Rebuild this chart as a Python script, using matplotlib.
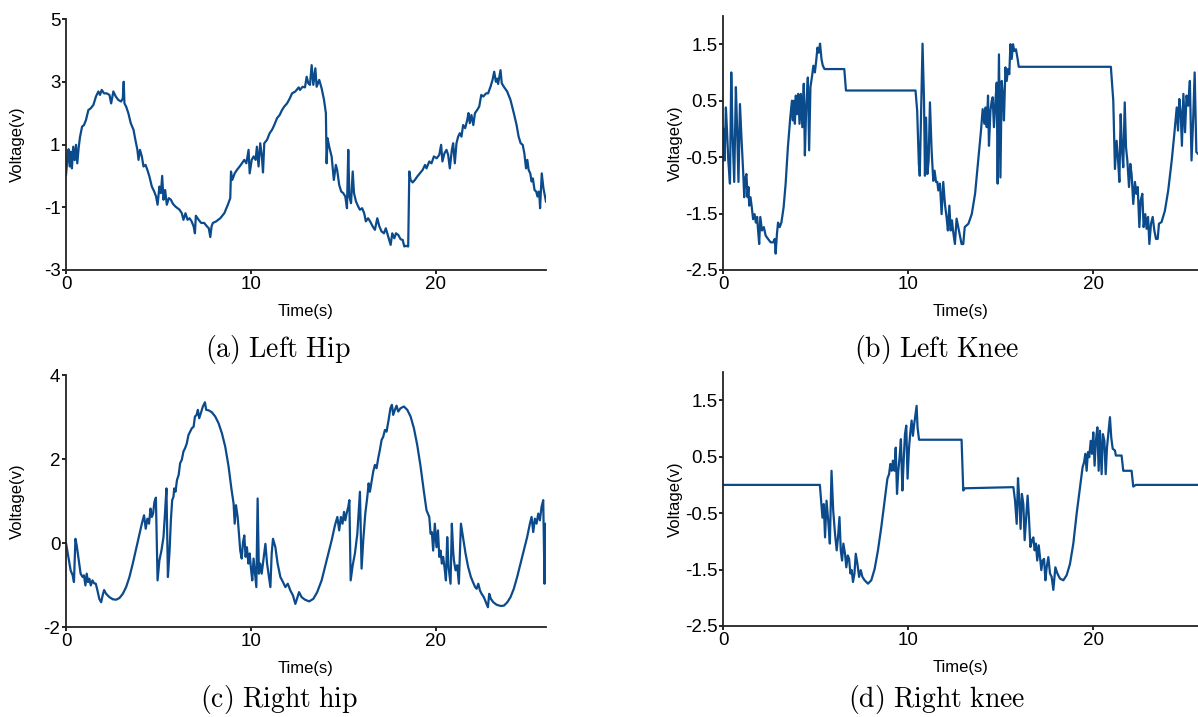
import numpy as np
import matplotlib
matplotlib.use("Agg")
import matplotlib.pyplot as plt

plt.rcParams["font.family"] = ["Liberation Sans", "DejaVu Sans"]
plt.rcParams["mathtext.fontset"] = "cm"
plt.rcParams["axes.unicode_minus"] = False

LINE_C = "#0b4a8b"

# ---- (a) Left hip ----
lhip_t = [0, 0.09, 0.14, 0.2, 0.27, 0.32, 0.39, 0.47, 0.54, 0.61, 0.69, 0.76, 0.87, 0.97,
          1.08, 1.21, 1.33, 1.48, 1.62, 1.75, 1.84, 1.93, 2.06, 2.2, 2.35, 2.44, 2.56, 2.69,
          2.83, 2.98, 3.07, 3.12, 3.16, 3.25, 3.37, 3.5, 3.65, 3.75, 3.86, 3.92, 4.0, 4.1,
          4.19, 4.3, 4.4, 4.51, 4.64, 4.77, 4.87, 4.95, 5.05, 5.13, 5.2, 5.27, 5.36, 5.45,
          5.56, 5.67, 5.78, 5.92, 6.03, 6.14, 6.26, 6.35, 6.46, 6.57, 6.68, 6.79, 6.9, 6.97,
          7.02, 7.17, 7.31, 7.47, 7.62, 7.72, 7.8, 7.87, 7.94, 8.12, 8.34, 8.56, 8.75, 8.88,
          8.92, 8.99, 9.12, 9.24, 9.39, 9.51, 9.64, 9.75, 9.87, 9.93, 10.04, 10.14, 10.25,
          10.32, 10.41, 10.5, 10.59, 10.65, 10.72, 10.87, 11.01, 11.14, 11.26, 11.41, 11.55,
          11.68, 11.8, 11.95, 12.1, 12.22, 12.4, 12.58, 12.65, 12.79, 12.92, 13.01, 13.1,
          13.19, 13.28, 13.37, 13.48, 13.55, 13.69, 13.82, 13.95, 14.05, 14.09, 14.14, 14.23,
          14.36, 14.48, 14.59, 14.66, 14.77, 14.88, 14.99, 15.1, 15.19, 15.26, 15.32, 15.41,
          15.5, 15.57, 15.68, 15.8, 15.89, 16.01, 16.12, 16.21, 16.33, 16.44, 16.58, 16.7,
          16.83, 16.94, 17.06, 17.19, 17.29, 17.42, 17.55, 17.64, 17.75, 17.84, 17.96, 18.09,
          18.2, 18.29, 18.38, 18.5, 18.56, 18.63, 18.74, 18.86, 18.99, 19.13, 19.28, 19.41,
          19.49, 19.64, 19.76, 19.89, 20.04, 20.18, 20.28, 20.35, 20.46, 20.57, 20.66, 20.75,
          20.86, 20.93, 21.02, 21.11, 21.2, 21.29, 21.38, 21.47, 21.58, 21.69, 21.76, 21.83,
          21.92, 22.02, 22.11, 22.23, 22.34, 22.45, 22.56, 22.71, 22.82, 22.95, 23.06, 23.15,
          23.24, 23.31, 23.36, 23.49, 23.56, 23.67, 23.85, 24.03, 24.21, 24.36, 24.47, 24.58,
          24.69, 24.78, 24.87, 24.94, 25.01, 25.1, 25.17, 25.24, 25.33, 25.42, 25.49, 25.56,
          25.6, 25.63, 25.72, 25.81, 25.95]
lhip_v = [0.03, 0.62, 0.85, 0.3, 0.77, 0.24, 0.93, 0.5, 0.99, 0.4, 0.93, 1.25, 1.57, 1.62,
          1.78, 2.1, 2.15, 2.26, 2.53, 2.69, 2.58, 2.74, 2.63, 2.63, 2.58, 2.31, 2.69, 2.53,
          2.42, 2.37, 2.47, 3.0, 2.31, 2.21, 2.0, 1.68, 1.47, 1.15, 0.83, 0.51, 0.83, 0.62,
          0.3, 0.35, 0.19, -0.02, -0.34, -0.5, -0.66, -0.92, -0.34, -0.55, 0.0, -0.76, -0.45,
          -0.92, -0.71, -0.76, -0.89, -0.98, -1.03, -1.08, -1.19, -1.4, -1.19, -1.4, -1.35,
          -1.45, -1.61, -1.83, -1.27, -1.4, -1.5, -1.5, -1.61, -1.67, -1.95, -1.61, -1.5,
          -1.45, -1.35, -1.19, -0.92, -0.71, 0.14, -0.13, 0.08, 0.19, 0.3, 0.4, 0.51, 0.4,
          0.83, 0.08, 0.51, 0.62, 0.51, 0.93, 0.3, 1.04, 0.62, 0.11, 1.04, 1.15, 1.36, 1.47,
          1.62, 1.84, 1.94, 2.1, 2.21, 2.31, 2.47, 2.63, 2.69, 2.82, 2.74, 2.84, 2.82, 3.16,
          2.95, 2.9, 3.53, 2.9, 3.43, 2.84, 3.06, 2.79, 2.42, 2.0, 0.4, 1.2, 0.93, 0.62, -0.13,
          0.35, 0.19, -0.29, -0.5, -0.55, -0.66, -1.03, 0.83, -0.66, -0.87, 0.14, -0.55, -0.82,
          -0.98, -1.08, -1.03, -1.19, -1.45, -1.35, -1.45, -1.61, -1.72, -1.35, -1.61, -1.77,
          -1.83, -1.67, -1.93, -2.2, -1.83, -1.99, -1.83, -1.88, -2.02, -2.04, -2.25, -2.23,
          -2.25, 0.14, -0.13, -0.21, -0.13, -0.02, 0.08, 0.19, 0.35, 0.24, 0.46, 0.4, 0.62,
          0.56, 0.67, 0.99, 0.46, 0.72, 0.83, 0.67, 0.24, 0.83, 1.04, 0.4, 1.04, 1.25, 1.36,
          1.25, 1.62, 1.52, 1.78, 2.0, 1.68, 1.94, 1.62, 2.0, 2.1, 2.21, 2.58, 2.53, 2.63,
          2.63, 2.84, 3.06, 3.32, 3.0, 3.1, 2.93, 3.37, 2.95, 2.84, 2.69, 2.42, 2.0, 1.62, 1.25,
          1.04, 0.99, 0.72, 0.24, 0.51, 0.19, 0.08, -0.18, -0.08, -0.45, -0.5, -0.66, -0.5,
          -0.71, -1.03, 0.08, -0.39, -0.82]

# ---- (b) Left knee ----
lknee_t = [0, 0.07, 0.14, 0.2, 0.27, 0.36, 0.43, 0.5, 0.59, 0.68, 0.75, 0.82, 0.9, 0.99,
           1.08, 1.13, 1.2, 1.25, 1.31, 1.36, 1.4, 1.47, 1.54, 1.61, 1.69, 1.76, 1.83, 1.88,
           1.94, 2.0, 2.09, 2.19, 2.29, 2.42, 2.56, 2.69, 2.78, 2.83, 2.9, 2.96, 3.05, 3.14,
           3.26, 3.37, 3.49, 3.62, 3.71, 3.76, 3.82, 3.87, 3.92, 3.98, 4.05, 4.12, 4.19, 4.27,
           4.35, 4.41, 4.48, 4.57, 4.64, 4.71, 4.8, 4.87, 4.95, 5.02, 5.09, 5.16, 5.23, 5.31,
           5.38, 5.47, 6.54, 6.63, 10.39, 10.48, 10.57, 10.62, 10.77, 10.85, 10.9, 10.96,
           11.03, 11.1, 11.17, 11.26, 11.35, 11.42, 11.5, 11.57, 11.62, 11.71, 11.8, 11.89,
           11.98, 12.07, 12.14, 12.22, 12.29, 12.36, 12.43, 12.52, 12.61, 12.7, 12.79, 12.88,
           12.97, 13.05, 13.25, 13.43, 13.61, 13.78, 13.93, 14.02, 14.11, 14.18, 14.24, 14.31,
           14.36, 14.44, 14.51, 14.56, 14.63, 14.71, 14.78, 14.83, 14.9, 14.98, 15.05, 15.12,
           15.17, 15.25, 15.32, 15.39, 15.46, 15.52, 15.59, 15.66, 15.73, 15.82, 15.91, 15.97,
           20.95, 21.08, 21.17, 21.26, 21.33, 21.41, 21.48, 21.55, 21.62, 21.7, 21.77, 21.84,
           21.93, 22.0, 22.07, 22.16, 22.25, 22.33, 22.4, 22.49, 22.56, 22.65, 22.72, 22.81,
           22.88, 22.96, 23.03, 23.12, 23.21, 23.3, 23.39, 23.48, 23.55, 23.69, 23.87, 24.05,
           24.24, 24.38, 24.51, 24.58, 24.65, 24.72, 24.79, 24.87, 24.96, 25.04, 25.13, 25.22,
           25.31, 25.4, 25.48, 25.57, 25.66]
lknee_v = [0.0, -0.56, 0.38, -0.03, -0.56, -0.97, 1.0, -0.09, -0.94, 0.74, -0.03, -0.94,
           0.44, -0.21, -0.8, -1.21, -0.86, -0.8, -1.21, -1.03, -1.36, -1.21, -1.39, -1.6,
           -1.51, -1.66, -1.56, -1.8, -2.04, -1.56, -1.8, -1.74, -1.89, -1.95, -2.01, -2.01,
           -1.95, -2.21, -1.86, -1.66, -1.74, -1.66, -1.39, -0.97, -0.33, 0.2, 0.5, 0.15, 0.5,
           0.09, 0.59, 0.26, 0.62, 0.09, 0.62, 0.03, 0.8, -0.47, 0.38, 0.91, -0.38, 0.74, 0.94,
           1.12, 1.0, 1.2, 1.44, 1.35, 1.51, 1.23, 1.12, 1.06, 1.06, 0.68, 0.68, 0.32, -0.62,
           -0.83, 1.51, 0.5, -0.83, 0.2, -0.8, -0.56, 0.47, -0.38, -0.92, -0.74, -0.94, -0.94,
           -1.09, -0.97, -1.51, -0.94, -1.33, -1.57, -1.8, -1.36, -1.8, -1.62, -1.83, -2.04,
           -1.59, -1.74, -1.89, -2.04, -2.04, -1.74, -1.68, -1.51, -1.15, -0.56, -0.03, 0.35,
           0.09, 0.38, 0.03, 0.59, -0.3, 0.32, 0.5, 0.56, 0.03, 0.5, 0.82, -0.97, 1.32, -0.86,
           0.85, 0.56, 0.15, 1.09, 0.85, 1.06, 0.97, 1.5, 1.24, 1.5, 1.38, 1.41, 1.24, 1.1,
           1.1, 0.5, -0.71, -0.21, -0.5, -0.94, 0.26, -0.38, -0.68, 0.47, -0.33, -0.56, -1.03,
           -0.62, -0.8, -1.33, -0.94, -1.15, -1.03, -1.74, -1.27, -1.15, -1.74, -1.51, -1.77,
           -1.56, -2.04, -1.68, -1.56, -1.8, -1.95, -1.95, -1.68, -1.65, -1.45, -1.09, -0.56,
           -0.09, 0.38, -0.03, 0.53, 0.32, -0.3, 0.62, -0.06, 0.59, 0.41, 0.85, -0.56, 0.18,
           1.0, -0.41, -0.44]

# ---- (c) Right hip ----
rhip_t = [0, 0.13, 0.25, 0.36, 0.43, 0.51, 0.58, 0.69, 0.79, 0.9, 0.97, 1.05, 1.12, 1.19,
          1.26, 1.34, 1.43, 1.52, 1.61, 1.7, 1.8, 1.9, 1.98, 2.06, 2.17, 2.35, 2.53, 2.71,
          2.89, 3.07, 3.25, 3.43, 3.61, 3.79, 3.97, 4.1, 4.22, 4.31, 4.4, 4.49, 4.57, 4.64,
          4.71, 4.78, 4.86, 4.95, 5.05, 5.16, 5.27, 5.34, 5.43, 5.51, 5.6, 5.67, 5.74, 5.81,
          5.85, 5.92, 6.0, 6.09, 6.17, 6.26, 6.35, 6.44, 6.53, 6.62, 6.71, 6.8, 6.9, 6.97,
          7.06, 7.13, 7.2, 7.29, 7.4, 7.51, 7.58, 7.71, 7.89, 8.07, 8.25, 8.43, 8.61, 8.79,
          8.94, 9.06, 9.12, 9.19, 9.28, 9.35, 9.42, 9.5, 9.57, 9.64, 9.71, 9.78, 9.86, 9.93,
          10.0, 10.07, 10.14, 10.22, 10.29, 10.36, 10.43, 10.5, 10.58, 10.69, 10.78, 10.87,
          10.96, 11.05, 11.12, 11.19, 11.32, 11.44, 11.59, 11.73, 11.86, 11.99, 12.13, 12.27,
          12.4, 12.6, 12.74, 12.92, 13.15, 13.37, 13.58, 13.82, 14.09, 14.36, 14.54, 14.67,
          14.77, 14.86, 14.95, 15.03, 15.1, 15.17, 15.26, 15.32, 15.39, 15.5, 15.62, 15.75,
          15.89, 15.98, 16.07, 16.18, 16.29, 16.36, 16.43, 16.52, 16.61, 16.7, 16.79, 16.88,
          16.97, 17.06, 17.15, 17.24, 17.33, 17.44, 17.54, 17.62, 17.69, 17.78, 17.87, 17.96,
          18.09, 18.27, 18.45, 18.63, 18.81, 18.99, 19.17, 19.35, 19.49, 19.64, 19.71, 19.78,
          19.85, 19.94, 20.03, 20.11, 20.18, 20.25, 20.32, 20.39, 20.46, 20.54, 20.61, 20.68,
          20.79, 20.86, 20.93, 20.97, 21.06, 21.15, 21.24, 21.35, 21.46, 21.6, 21.74, 21.89,
          22.0, 22.12, 22.2, 22.29, 22.38, 22.47, 22.59, 22.7, 22.81, 22.88, 22.97, 23.1,
          23.28, 23.5, 23.68, 23.86, 24.03, 24.21, 24.39, 24.57, 24.75, 24.93, 25.08, 25.17,
          25.26, 25.35, 25.44, 25.53, 25.62, 25.71, 25.8, 25.87, 25.93, 25.95]
rhip_v = [0, -0.33, -0.65, -0.77, -0.93, 0.1, -0.06, -0.41, -0.73, -0.81, -0.77, -1.01,
          -0.73, -0.93, -0.85, -1.01, -0.89, -0.96, -0.97, -1.13, -1.33, -1.41, -1.25, -1.12,
          -1.21, -1.29, -1.34, -1.35, -1.31, -1.21, -1.05, -0.81, -0.49, -0.14, 0.22, 0.46,
          0.66, 0.34, 0.58, 0.46, 0.82, 0.62, 0.7, 0.98, 1.08, -0.89, -0.41, -0.18, 0.14,
          0.62, 1.3, -0.81, -0.18, 0.54, 1.02, 1.1, 1.3, 1.22, 1.5, 1.62, 1.9, 1.98, 2.18,
          2.26, 2.37, 2.57, 2.65, 2.73, 2.77, 3.01, 3.05, 3.17, 2.97, 3.09, 3.25, 3.35, 3.17,
          3.16, 3.11, 3.01, 2.85, 2.61, 2.29, 1.82, 1.3, 0.94, 0.46, 0.9, 0.62, 0.22, -0.18,
          -0.37, 0.02, 0.18, -0.33, -0.1, -0.49, -0.25, -0.61, -0.89, -0.37, -0.73, -1.05,
          1.06, -0.73, -0.49, -0.73, -0.33, -0.02, -0.49, -0.77, -1.05, -0.25, 0.1, -0.1,
          -0.49, -0.81, -0.93, -1.05, -0.97, -1.13, -1.25, -1.45, -1.17, -1.29, -1.35, -1.39,
          -1.33, -1.17, -0.89, -0.41, 0.06, 0.42, 0.62, 0.3, 0.62, 0.46, 0.74, 0.54, 0.7, 0.86,
          1.02, -0.89, -0.53, -0.25, 0.22, 1.22, -0.61, 0.06, 0.7, 1.1, 1.42, 1.22, 1.46, 1.7,
          1.86, 1.78, 2.02, 2.22, 2.45, 2.53, 2.69, 2.65, 2.93, 3.21, 3.29, 3.05, 3.17, 3.27,
          3.13, 3.21, 3.25, 3.17, 3.01, 2.73, 2.33, 1.82, 1.22, 0.78, 0.62, 0.22, 0.26, -0.18,
          0.46, -0.1, 0.3, -0.33, -0.18, -0.49, -0.33, -0.57, -0.89, 0.14, -0.57, -0.97, 0.46,
          -0.18, -0.41, -0.65, -0.53, -0.97, 0.46, 0.14, -0.25, -0.57, -0.81, -0.93, -1.05,
          -1.09, -0.97, -1.13, -1.21, -1.29, -1.41, -1.53, -1.21, -1.33, -1.41, -1.47, -1.5,
          -1.49, -1.41, -1.29, -1.09, -0.81, -0.49, -0.18, 0.14, 0.46, 0.62, 0.26, 0.58, 0.46,
          0.7, 0.54, 0.86, 1.02, -0.97, 0.46, 0.46]

# ---- (d) Right knee ----
rknee_t = [0, 5.22, 5.29, 5.36, 5.43, 5.5, 5.58, 5.67, 5.76, 5.85, 5.94, 6.04, 6.13, 6.2,
           6.28, 6.35, 6.42, 6.49, 6.58, 6.65, 6.73, 6.8, 6.87, 6.94, 7.01, 7.09, 7.16, 7.25,
           7.34, 7.43, 7.52, 7.64, 7.82, 8.0, 8.18, 8.36, 8.54, 8.72, 8.87, 8.96, 9.03, 9.1,
           9.17, 9.25, 9.32, 9.39, 9.46, 9.53, 9.6, 9.68, 9.75, 9.82, 9.89, 9.96, 10.04, 10.11,
           10.18, 10.25, 10.32, 10.39, 10.45, 10.5, 10.58, 12.88, 12.97, 13.06, 15.68, 15.77,
           15.86, 15.93, 16.0, 16.07, 16.14, 16.22, 16.29, 16.36, 16.45, 16.52, 16.6, 16.69,
           16.76, 16.83, 16.9, 16.97, 17.05, 17.12, 17.19, 17.26, 17.34, 17.41, 17.48, 17.57,
           17.66, 17.75, 17.84, 17.95, 18.06, 18.2, 18.38, 18.56, 18.74, 18.92, 19.1, 19.28,
           19.42, 19.5, 19.57, 19.64, 19.71, 19.78, 19.86, 19.93, 20.0, 20.07, 20.14, 20.22,
           20.29, 20.36, 20.45, 20.52, 20.6, 20.67, 20.74, 20.81, 20.9, 20.97, 21.05, 21.17,
           21.22, 21.53, 21.62, 22.07, 22.16, 22.3, 25.66]
rknee_v = [0.0, 0.0, -0.28, -0.58, -0.34, -0.93, -0.28, -0.63, -1.04, 0.25, -0.45, -0.87,
           -1.16, -0.93, -0.57, -1.16, -1.34, -1.04, -1.22, -1.46, -1.25, -1.31, -1.57, -1.51,
           -1.72, -1.57, -1.22, -1.4, -1.63, -1.51, -1.63, -1.69, -1.75, -1.69, -1.49, -1.16,
           -0.75, -0.28, 0.11, 0.19, 0.37, 0.25, 0.43, 0.25, 0.66, -0.16, 0.25, 0.49, 0.81,
           -0.1, 0.43, 0.9, 1.05, 0.11, 0.66, 0.93, 1.14, 0.87, 1.08, 1.25, 1.4, 1.02, 0.8, 0.8,
           -0.1, -0.06, -0.04, -0.28, -0.69, 0.12, -0.28, -0.78, -0.16, -0.34, -0.98, -0.63,
           -0.19, -0.57, -1.1, -0.98, -0.93, -1.16, -1.04, -1.34, -1.07, -1.28, -1.51, -1.34,
           -1.31, -1.69, -1.46, -1.28, -1.57, -1.63, -1.86, -1.46, -1.57, -1.66, -1.69, -1.6,
           -1.4, -1.04, -0.51, -0.04, 0.31, 0.4, 0.55, 0.25, 0.58, 0.49, 0.78, 0.55, 0.93, 0.34,
           0.78, 1.02, 0.25, 0.96, 0.19, 0.9, 0.78, 0.19, 0.66, 0.9, 1.2, 0.84, 0.64, 0.61,
           0.52, 0.52, 0.25, 0.25, -0.03, 0.0, 0.0]

panels = [
    (lhip_t, lhip_v, (-3, 5), [-3, -1, 1, 3, 5], 25.95, r"$\mathrm{(a)\ Left\ Hip}$"),
    (lknee_t, lknee_v, (-2.5, 2.0), [-2.5, -1.5, -0.5, 0.5, 1.5], 25.66, r"$\mathrm{(b)\ Left\ Knee}$"),
    (rhip_t, rhip_v, (-2, 4), [-2, 0, 2, 4], 25.95, r"$\mathrm{(c)\ Right\ hip}$"),
    (rknee_t, rknee_v, (-2.5, 2.0), [-2.5, -1.5, -0.5, 0.5, 1.5], 25.66, r"$\mathrm{(d)\ Right\ knee}$"),
]

# axes rectangles in figure fraction [left, bottom, width, height]
W, H = 1198.0, 717.0
rects = [
    [66 / W, 1 - 270 / H, 480 / W, 251 / H],
    [723.3 / W, 1 - 270 / H, 474.7 / W, 254 / H],
    [66 / W, 1 - 627 / H, 480 / W, 252 / H],
    [723.3 / W, 1 - 626 / H, 474.7 / W, 254 / H],
]
caption_xy = [(278, 349), (937, 349), (279, 700), (937, 700)]

fig = plt.figure(figsize=(11.98, 7.17), dpi=100)

for (t, v, ylim, yticks, xmax, cap), rect, (cx, cy) in zip(panels, rects, caption_xy):
    ax = fig.add_axes(rect)
    ax.plot(t, v, color=LINE_C, lw=1.6)
    ax.set_xlim(0, xmax)
    ax.set_ylim(*ylim)
    ax.set_xticks([0, 10, 20])
    ax.set_yticks(yticks)
    ax.set_yticklabels([f"{y:g}" for y in yticks])
    for s in ("top", "right"):
        ax.spines[s].set_visible(False)
    for s in ("left", "bottom"):
        ax.spines[s].set_linewidth(1.3)
        ax.spines[s].set_color("#222222")
    ax.tick_params(direction="out", length=3, width=1.2, labelsize=13.5, pad=1)
    ax.set_xlabel("Time(s)", fontsize=12, labelpad=8)
    ax.set_ylabel("Voltage(v)", fontsize=12)
    ax.yaxis.set_label_coords(-0.085, 0.5)
    fig.text(cx / W, 1 - cy / H, cap, fontsize=20, ha="center", va="center")

fig.savefig("out.png", dpi=100)
